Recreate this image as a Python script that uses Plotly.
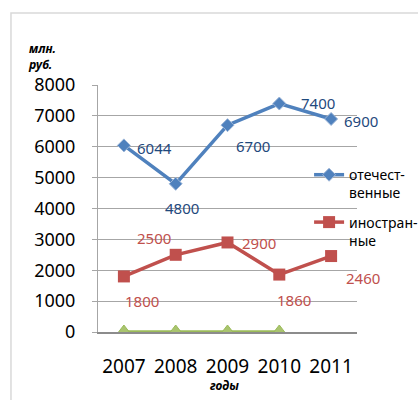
import plotly.graph_objects as go

years = ["2007", "2008", "2009", "2010", "2011"]
domestic = [6044, 4800, 6700, 7400, 6900]
foreign = [1800, 2500, 2900, 1860, 2460]
other_years = ["2007", "2008", "2009", "2010"]
other = [0, 0, 0, 0]

# label offsets (pixels) for data labels
dom_shift = [(31, -3), (6, -24), (25, -21), (39, 1), (30, -2)]
for_shift = [(18, -25), (-22, 17), (31, -1), (15, -25), (32, -22)]

FONT = "Noto Sans"
BLUE = "#4F81BD"
RED = "#C0504D"
GREEN = "#9BBB59"

fig = go.Figure()
fig.add_trace(go.Scatter(
    x=years, y=domestic, mode="lines+markers", name="отечест-<br>венные",
    line=dict(color=BLUE, width=3.5),
    marker=dict(symbol="diamond", size=10, color=BLUE, line=dict(color="#9DB6D8", width=1)),
    legendgroup="a",
))
fig.add_trace(go.Scatter(
    x=years, y=foreign, mode="lines+markers", name="иностран-<br>ные",
    line=dict(color=RED, width=3.5),
    marker=dict(symbol="square", size=12, color=RED),
    legendgroup="b",
))
fig.add_trace(go.Scatter(
    x=other_years, y=other, mode="lines+markers", name="прочие",
    line=dict(color=GREEN, width=3.5),
    marker=dict(symbol="triangle-up", size=14, color="#A9C46E", line=dict(color=GREEN, width=1)),
    showlegend=False,
))

ann = []
for i, (y, (dx, dy)) in enumerate(zip(domestic, dom_shift)):
    ann.append(dict(xref="x", yref="y", x=i, y=y, text=str(y), showarrow=False,
                    xshift=dx, yshift=dy,
                    font=dict(family=FONT, size=15, color="#1F497D")))
for i, (y, (dx, dy)) in enumerate(zip(foreign, for_shift)):
    ann.append(dict(xref="x", yref="y", x=i, y=y, text=str(y), showarrow=False,
                    xshift=dx, yshift=dy,
                    font=dict(family=FONT, size=15, color=RED)))
ann.append(dict(xref="paper", yref="paper", x=-0.215, y=1.115, text="<b><i>млн.<br>руб.</i></b>",
                showarrow=False, align="left", xanchor="center", yanchor="middle",
                font=dict(family=FONT, size=12, color="black")))
ann.append(dict(xref="paper", yref="paper", x=0.485, y=-0.215, text="<b><i>годы</i></b>",
                showarrow=False, xanchor="center", yanchor="middle",
                font=dict(family=FONT, size=12, color="black")))

fig.update_layout(
    width=418, height=400,
    margin=dict(l=98, r=61, t=85, b=68, autoexpand=False),
    paper_bgcolor="white", plot_bgcolor="white",
    font=dict(family=FONT, color="black"),
    annotations=ann,
    showlegend=True,
    legend=dict(x=0.815, y=0.7, xanchor="left", yanchor="top", bgcolor="rgba(0,0,0,0)",
                font=dict(family=FONT, size=14), valign="top", tracegroupgap=8,
                itemwidth=30),
    shapes=[dict(type="rect", xref="paper", yref="paper", x0=-0.336, y0=-0.5, x1=1.6, y1=1.291,
                 line=dict(color="#D9D9D9", width=1.5), layer="below")],
    xaxis=dict(type="category", range=[-0.5, 4.5], showgrid=False,
               showline=True, linecolor="#8C8C8C", linewidth=1.5,
               ticks="", tickfont=dict(family=FONT, size=19), ticklabelstandoff=16),
    yaxis=dict(range=[0, 8000], dtick=1000, showgrid=True, gridcolor="#A6A6A6", gridwidth=1,
               showline=True, linecolor="#A6A6A6", linewidth=1, zeroline=False,
               ticks="outside", ticklen=5, tickcolor="#A6A6A6",
               tickfont=dict(family=FONT, size=18), ticklabelstandoff=13),
)

fig.write_html("out.html")
